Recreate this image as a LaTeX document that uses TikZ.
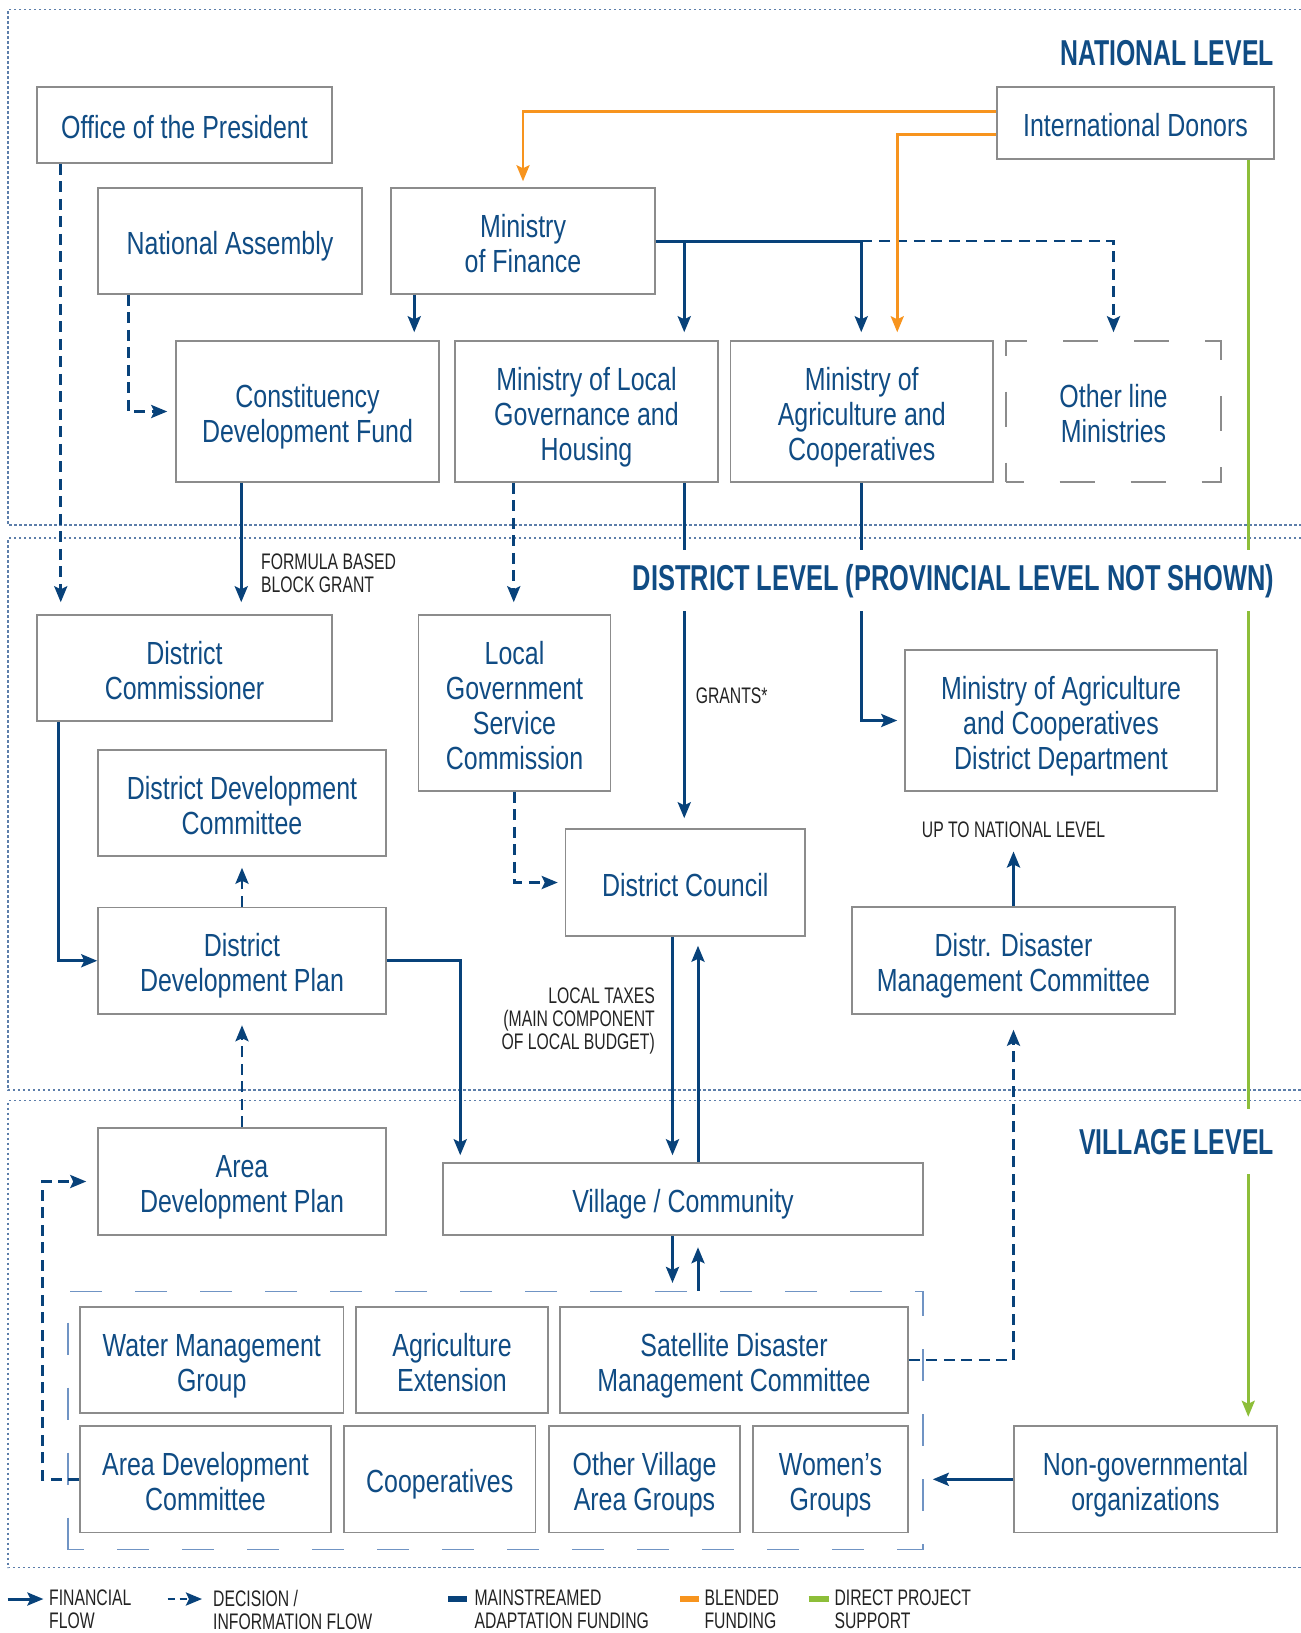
\documentclass[tikz,border=0pt]{standalone}
\usepackage{fontspec}
\setmainfont{Liberation Sans}[FakeStretch=0.78]
\newfontfamily\lblfont{Liberation Sans}[FakeStretch=0.70]
\newfontfamily\hdfont{Liberation Sans}[FakeStretch=0.69]
\newfontfamily\hdwidefont{Liberation Sans}[FakeStretch=0.706]
\usetikzlibrary{arrows.meta,calc}

\definecolor{flowblue}{RGB}{8,66,122}
\definecolor{textblue}{RGB}{16,76,132}
\definecolor{boxgray}{RGB}{140,140,140}
\definecolor{blendorange}{RGB}{247,148,30}
\definecolor{directgreen}{RGB}{141,190,57}
\definecolor{zoneblue}{RGB}{92,126,170}
\definecolor{groupblue}{RGB}{112,148,196}
\definecolor{labelgray}{RGB}{35,35,35}

\tikzset{
  box/.style={draw=boxgray, line width=1.5pt, fill=white, text=textblue,
    align=center, inner sep=0pt, font=\fontsize{32}{35}\selectfont},
  olm/.style={dash pattern=on 35pt off 36pt, dash phase=17.5pt},
  grpbox/.style={draw=groupblue, line width=1.5pt, inner sep=0pt,
    dash pattern=on 32pt off 33pt, dash phase=16pt},
  tip/.style={-{Stealth[length=16pt,width=13pt,inset=3pt]}},
  flow/.style={draw=flowblue, line width=3pt, tip},
  info/.style={draw=flowblue, line width=2.8pt, tip, dash pattern=on 11pt off 6.5pt},
  blend/.style={draw=blendorange, line width=2.5pt, tip},
  direct/.style={draw=directgreen, line width=2.5pt, tip},
  zone/.style={draw=zoneblue, line width=1.1pt, dash pattern=on 2.5pt off 2.5pt},
  lbl/.style={text=labelgray, align=left, inner sep=0pt,
    font=\lblfont\fontsize{22.5}{23}\selectfont},
  hdr/.style={text=textblue, inner xsep=4pt, inner ysep=0pt,
    font=\hdfont\bfseries\fontsize{36}{40}\selectfont},
}

% box from its corners: name, x1, y1, x2, y2, text
% (struts centre the block from the first cap line to the last baseline)
\newcommand\bx[7][]{%
  \node[box,#1,minimum width={#5pt-#3pt},minimum height={#6pt-#4pt}]
    (#2) at ({(#3+#5)/2},{(#4+#6)/2})
    {\rule{0pt}{35pt}#7\rule[-8pt]{0pt}{0pt}};}

\begin{document}
\begin{tikzpicture}[x=1pt,y=-1pt]
\useasboundingbox (0,0) rectangle (1301,1633);

% level zones (open on the right)
\draw[zone] (1301,9.3) -- (8,9.3) -- (8,525) -- (1301,525);
\draw[zone] (1301,538) -- (8,538) -- (8,1090) -- (1301,1090);
\draw[zone] (1301,1100.5) -- (8,1100.5) -- (8,1567.5) -- (1301,1567.5);

% national level
\bx{op}{37}{87}{332}{163}{Office of the President}
\bx{donors}{997}{87}{1274}{159}{International Donors}
\bx{na}{98}{188}{362}{294}{National Assembly}
\bx{mof}{391}{188}{655}{294}{Ministry\\of Finance}
\bx{cdf}{176}{341}{439}{482}{Constituency\\Development Fund}
\bx{mlgh}{455}{341}{718}{482}{Ministry of Local\\Governance and\\Housing}
\bx{moac}{730.5}{341}{993}{482}{Ministry of\\Agriculture and\\Cooperatives}
\bx[olm]{others}{1006}{341}{1221}{482}{Other line\\Ministries}

% district level
\bx{dcom}{37}{615}{332}{721}{District\\Commissioner}
\bx{ddc}{98}{750}{386}{856}{District Development\\Committee}
\bx{lgsc}{418.5}{615}{610.5}{791}{Local\\Government\\Service\\Commission}
\bx{ddp}{98}{907.5}{386}{1014}{District\\Development Plan}
\bx{council}{565.5}{829}{805}{936}{District Council}
\bx{moacdd}{905}{650}{1217}{791}{Ministry of Agriculture\\and Cooperatives\\District Department}
\bx{ddmc}{852}{907}{1175}{1014}{Distr. Disaster\\Management Committee}

% village level
\node[grpbox, minimum width=855pt, minimum height=258pt] (grp) at (495.5,1420.7) {};
\bx{adp}{98}{1128}{386}{1235}{Area\\Development Plan}
\bx{village}{443}{1163}{923}{1235}{Village / Community}
\bx{wmg}{80}{1307}{343.5}{1413}{Water Management\\Group}
\bx{agext}{356}{1307}{548}{1413}{Agriculture\\Extension}
\bx{sdmc}{560}{1307}{908}{1413}{Satellite Disaster\\Management Committee}
\bx{adc}{80}{1426}{331}{1532.6}{Area Development\\Committee}
\bx{coop}{344}{1426}{535.5}{1532.6}{Cooperatives}
\bx{ovag}{549}{1426}{740}{1532.6}{Other Village\\Area Groups}
\bx{women}{753}{1426}{908}{1532.6}{Women’s\\Groups}
\bx{ngo}{1014}{1426}{1277}{1532.6}{Non-governmental\\organizations}

% tap points on box edges
\coordinate (opT)   at ($(op.south west)+(24.5,0)$);
\coordinate (naT)   at ($(na.south west)+(31,0)$);
\coordinate (mofT)  at ($(mof.south west)+(24,0)$);
\coordinate (donA)  at ($(donors.west)+(0,-11.6)$);
\coordinate (donB)  at ($(donors.west)+(0,11.3)$);
\coordinate (moacO) at ($(moac.north west)+(167.5,0)$);
\coordinate (mlghT) at ($(mlgh.north west)+(230,0)$);
\coordinate (moacT) at ($(moac.north west)+(131.5,0)$);
\coordinate (mlghB) at ($(mlgh.south west)+(230,0)$);
\coordinate (moacB) at ($(moac.south west)+(131.5,0)$);
\coordinate (cdfB)  at ($(cdf.south west)+(66,0)$);
\coordinate (mlghL) at ($(mlgh.south west)+(59.5,0)$);
\coordinate (dcomB) at ($(dcom.south west)+(22,0)$);
\coordinate (vilT)  at ($(village.north west)+(18,0)$);
\coordinate (cdn)   at ($(council.south)+(-12.75,0)$);
\coordinate (cup)   at ($(council.south)+(12.75,0)$);
\coordinate (adcL)  at ($(adc.west)+(-36.6,0)$);
\coordinate (donG)  at ($(donors.south east)+(-26.5,0)$);

% mainstreamed flows
\draw[info, shorten >=12pt] (opT) -- (opT |- dcom.north);
\draw[info, shorten >=8pt] (naT) |- (cdf.west);
\draw[flow, shorten >=8pt] (mofT) -- (mofT |- cdf.north);
\draw[flow, shorten >=8pt] (mof.east) -| (mlghT);
\draw[flow, shorten >=8pt] (mof.east) -| (moacT);
\draw[info, shorten >=8pt] (mof.east -| moacT) -| (others.north);
\draw[flow, shorten >=10pt] (mlghB) -- (mlghB |- council.north);
\draw[flow, shorten >=7pt] (moacB) |- (moacdd.west);
\draw[flow, shorten >=12pt] (cdfB) -- (cdfB |- dcom.north);
\draw[info, shorten >=12pt] (mlghL) -- (mlghL |- lgsc.north);
\draw[flow] (dcomB) |- (ddp.west);
\draw[info, shorten >=11pt] (ddp.north) -- (ddc.south);
\draw[info, shorten >=7pt] (lgsc.south) |- (council.west);
\draw[flow, shorten >=7pt] (ddp.east) -| (vilT);
\draw[flow, shorten >=7pt] (cdn) -- (cdn |- village.north);
\draw[flow, shorten >=9pt] (cup |- village.north) -- (cup);
\draw[flow, shorten >=8pt] (cdn |- village.south) -- (cdn |- grp.north);
\draw[flow, shorten >=11.5pt] (cup |- grp.north) -- (cup |- village.south);
\draw[info, shorten >=10.5pt] (adp.north) -- (ddp.south);
\draw[info, shorten >=11pt] (adc.west) -- (adcL) |- (adp.west);
\draw[info, shorten >=15pt] (sdmc.east) -| (ddmc.south);
\node[lbl, anchor=base] (upnat) at (1013.5,837) {UP TO NATIONAL LEVEL};
\draw[flow, shorten >=14pt] (ddmc.north) -- (upnat.south);
\draw[flow, shorten >=9pt] (ngo.west) -- (ngo.west -| grp.east);

% blended and direct funding
\draw[blend, shorten >=6pt] (donA) -| (mof.north);
\draw[blend, shorten >=8pt] (donB) -| (moacO);
\draw[direct, shorten >=8.5pt] (donG) -- (donG |- ngo.north);

% level headings
\node[hdr, anchor=north east] (hnat) at (1278,39.8) {NATIONAL LEVEL};
\node[hdr, anchor=base east, fill=white, inner ysep=14pt,
  font=\hdwidefont\bfseries\fontsize{36}{40}\selectfont] (hdist) at (1278,590)
  {DISTRICT LEVEL (PROVINCIAL LEVEL NOT SHOWN)};
\node[hdr, anchor=base east, fill=white, inner ysep=20pt] (hvil) at (1278,1154)
  {VILLAGE LEVEL};

% flow labels
\node[lbl, anchor=north west] (lblgrant) at (261,554) {FORMULA BASED\\BLOCK GRANT};
\node[lbl, anchor=north west] (lblgrants) at (695.6,688) {GRANTS*};
\node[lbl, anchor=north east, align=right] (lbltax) at (655,988)
  {LOCAL TAXES\\(MAIN COMPONENT\\OF LOCAL BUDGET)};

% legend
\coordinate (lg1a) at (7.6,1599);   \coordinate (lg1b) at (43.4,1599);
\coordinate (lg2a) at (167.5,1599); \coordinate (lg2b) at (202,1599);
\coordinate (lg3a) at (448,1599);   \coordinate (lg3b) at (467,1599);
\coordinate (lg4a) at (680,1599);   \coordinate (lg4b) at (699,1599);
\coordinate (lg5a) at (808.6,1599); \coordinate (lg5b) at (828.5,1599);
\draw[flow] (lg1a) -- (lg1b);
\draw[info, dash pattern=on 7pt off 5pt] (lg2a) -- (lg2b);
\draw[flowblue, line width=6pt] (lg3a) -- (lg3b);
\draw[blendorange, line width=6pt] (lg4a) -- (lg4b);
\draw[directgreen, line width=6pt] (lg5a) -- (lg5b);
\node[lbl, anchor=north west] (lgt1) at (49,1590) {FINANCIAL\\FLOW};
\node[lbl, anchor=north west] (lgt2) at (213,1590) {DECISION /\\INFORMATION FLOW};
\node[lbl, anchor=north west] (lgt3) at (474.3,1590) {MAINSTREAMED\\ADAPTATION FUNDING};
\node[lbl, anchor=north west] (lgt4) at (704.4,1590) {BLENDED\\FUNDING};
\node[lbl, anchor=north west] (lgt5) at (834.4,1590) {DIRECT PROJECT\\SUPPORT};
\end{tikzpicture}
\end{document}
